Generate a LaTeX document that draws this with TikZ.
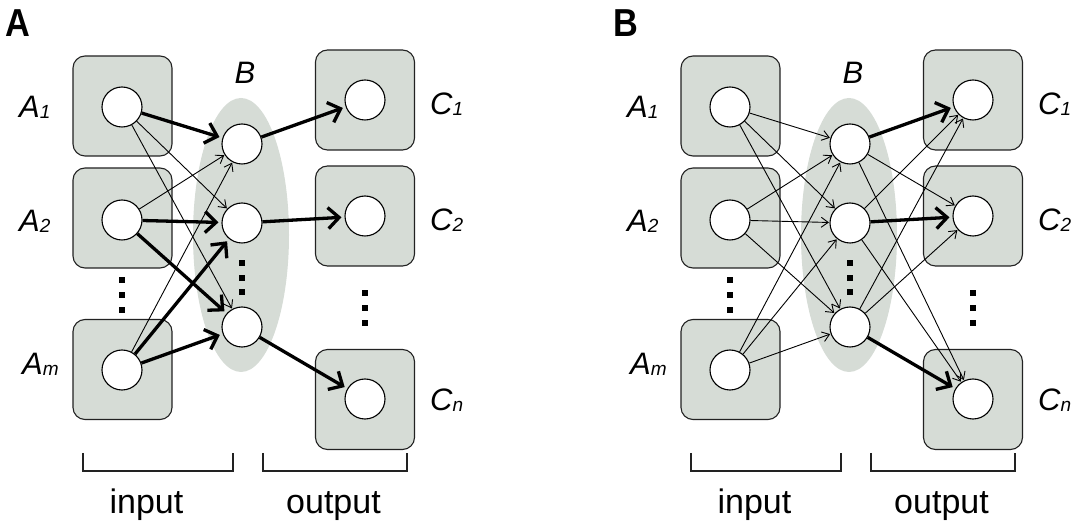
\documentclass[tikz,border=0pt]{standalone}
\usepackage{fontspec}
\setmainfont{Liberation Sans}
\usetikzlibrary{arrows.meta,shapes.geometric}
\definecolor{boxgray}{HTML}{D6DCD6}
\definecolor{edgegray}{HTML}{222222}
\newcommand\lblsub[2]{#1\raisebox{-1pt}{\fontsize{19}{19}\selectfont #2}}
\tikzset{
  unitbox/.style={draw=edgegray, fill=boxgray, rounded corners=12pt, line width=1.1pt,
    minimum width=99pt, minimum height=100pt, inner sep=0pt},
  layer/.style={ellipse, fill=boxgray, minimum width=96pt, minimum height=274pt, inner sep=0pt},
  neuron/.style={circle, draw=black, fill=white, line width=1.1pt, minimum size=40pt, inner sep=0pt},
  thinarrow/.style={line width=0.9pt, -{Straight Barb[length=7pt,width=10pt]}, shorten >=0.5pt},
  thickarrow/.style={line width=3.3pt, -{Straight Barb[length=11pt,width=21pt]}, shorten >=3pt},
  vdot/.style={fill=black, minimum size=5.5pt, inner sep=0pt},
  lab/.style={font=\fontsize{31}{31}\selectfont\itshape, anchor=base west, inner sep=0pt},
  blab/.style={font=\fontsize{31}{31}\selectfont\itshape, anchor=base, inner sep=0pt},
  panel/.style={font=\fontsize{39}{39}\selectfont\bfseries, anchor=base west, inner sep=0pt, xscale=0.88},
  caption/.style={font=\fontsize{34}{34}\selectfont, anchor=base, inner sep=0pt},
  bracket/.style={draw=edgegray, line width=1.2pt}
}
\newcommand\drawpanel[3]{%
\begin{scope}[xshift=#2]
  \node[panel] (#1title) at (5,37) {#3};
  \node[layer] (#1ell) at (241,235) {};
  \node[unitbox] (#1ba1) at (122.5,106) {};
  \node[unitbox] (#1ba2) at (122.5,218) {};
  \node[unitbox] (#1bam) at (122.5,369.5) {};
  \node[unitbox] (#1bc1) at (365,100) {};
  \node[unitbox] (#1bc2) at (365,216) {};
  \node[unitbox] (#1bcn) at (365,399.5) {};
  \node[neuron] (#1a1) at (122,107) {};
  \node[neuron] (#1a2) at (122,220) {};
  \node[neuron] (#1am) at (122,370) {};
  \node[neuron] (#1b1) at (242,144) {};
  \node[neuron] (#1b2) at (242,223) {};
  \node[neuron] (#1b3) at (242,327) {};
  \node[neuron] (#1c1) at (365,100) {};
  \node[neuron] (#1c2) at (365,216) {};
  \node[neuron] (#1cn) at (365,399) {};
  \node[vdot] (#1da1) at (122,280) {};
  \node[vdot] (#1da2) at (122,295) {};
  \node[vdot] (#1da3) at (122,310) {};
  \node[vdot] (#1db1) at (242,263) {};
  \node[vdot] (#1db2) at (242,278) {};
  \node[vdot] (#1db3) at (242,292) {};
  \node[vdot] (#1dc1) at (365,293) {};
  \node[vdot] (#1dc2) at (365,308) {};
  \node[vdot] (#1dc3) at (365,323) {};
  \node[lab] (#1la1) at (19,118) {\lblsub{A}{1}};
  \node[lab] (#1la2) at (19,232) {\lblsub{A}{2}};
  \node[lab] (#1lam) at (22,375) {\lblsub{A}{m}};
  \node[blab] (#1lb) at (245,84) {B};
  \node[lab] (#1lc1) at (430,115) {\lblsub{C}{1}};
  \node[lab] (#1lc2) at (430,231) {\lblsub{C}{2}};
  \node[lab] (#1lcn) at (430,411) {\lblsub{C}{n}};
  \coordinate (#1in1) at (83,453);
  \coordinate (#1in2) at (83,471);
  \coordinate (#1in3) at (233,471);
  \coordinate (#1in4) at (233,453);
  \coordinate (#1out1) at (263,453);
  \coordinate (#1out2) at (263,471);
  \coordinate (#1out3) at (407,471);
  \coordinate (#1out4) at (407,453);
  \draw[bracket] (#1in1) -- (#1in2) -- (#1in3) -- (#1in4);
  \draw[bracket] (#1out1) -- (#1out2) -- (#1out3) -- (#1out4);
  \node[caption] (#1tin) at (146.5,514) {input};
  \node[caption] (#1tout) at (333.5,514) {output};
\end{scope}}
\begin{document}
\begin{tikzpicture}[x=1pt,y=-1pt]
  \useasboundingbox (0,0) rectangle (1080,526);
  \drawpanel{p}{0pt}{A}
  \drawpanel{q}{608pt}{B}
  % panel A edges
  \draw[thinarrow] (pa1) -- (pb2);
  \draw[thinarrow] (pa1) -- (pb3);
  \draw[thinarrow] (pa2) -- (pb1);
  \draw[thinarrow] (pam) -- (pb1);
  \draw[thickarrow] (pa1) -- (pb1);
  \draw[thickarrow] (pa2) -- (pb2);
  \draw[thickarrow] (pa2) -- (pb3);
  \draw[thickarrow] (pam) -- (pb2);
  \draw[thickarrow] (pam) -- (pb3);
  \draw[thickarrow] (pb1) -- (pc1);
  \draw[thickarrow] (pb2) -- (pc2);
  \draw[thickarrow] (pb3) -- (pcn);
  % panel B edges
  \foreach \s in {qa1,qa2,qam}{
    \foreach \t in {qb1,qb2,qb3}{
      \draw[thinarrow] (\s) -- (\t);
    }
  }
  \draw[thinarrow] (qb1) -- (qc2);
  \draw[thinarrow] (qb1) -- (qcn);
  \draw[thinarrow] (qb2) -- (qc1);
  \draw[thinarrow] (qb2) -- (qcn);
  \draw[thinarrow] (qb3) -- (qc1);
  \draw[thinarrow] (qb3) -- (qc2);
  \draw[thickarrow] (qb1) -- (qc1);
  \draw[thickarrow] (qb2) -- (qc2);
  \draw[thickarrow] (qb3) -- (qcn);
\end{tikzpicture}
\end{document}
